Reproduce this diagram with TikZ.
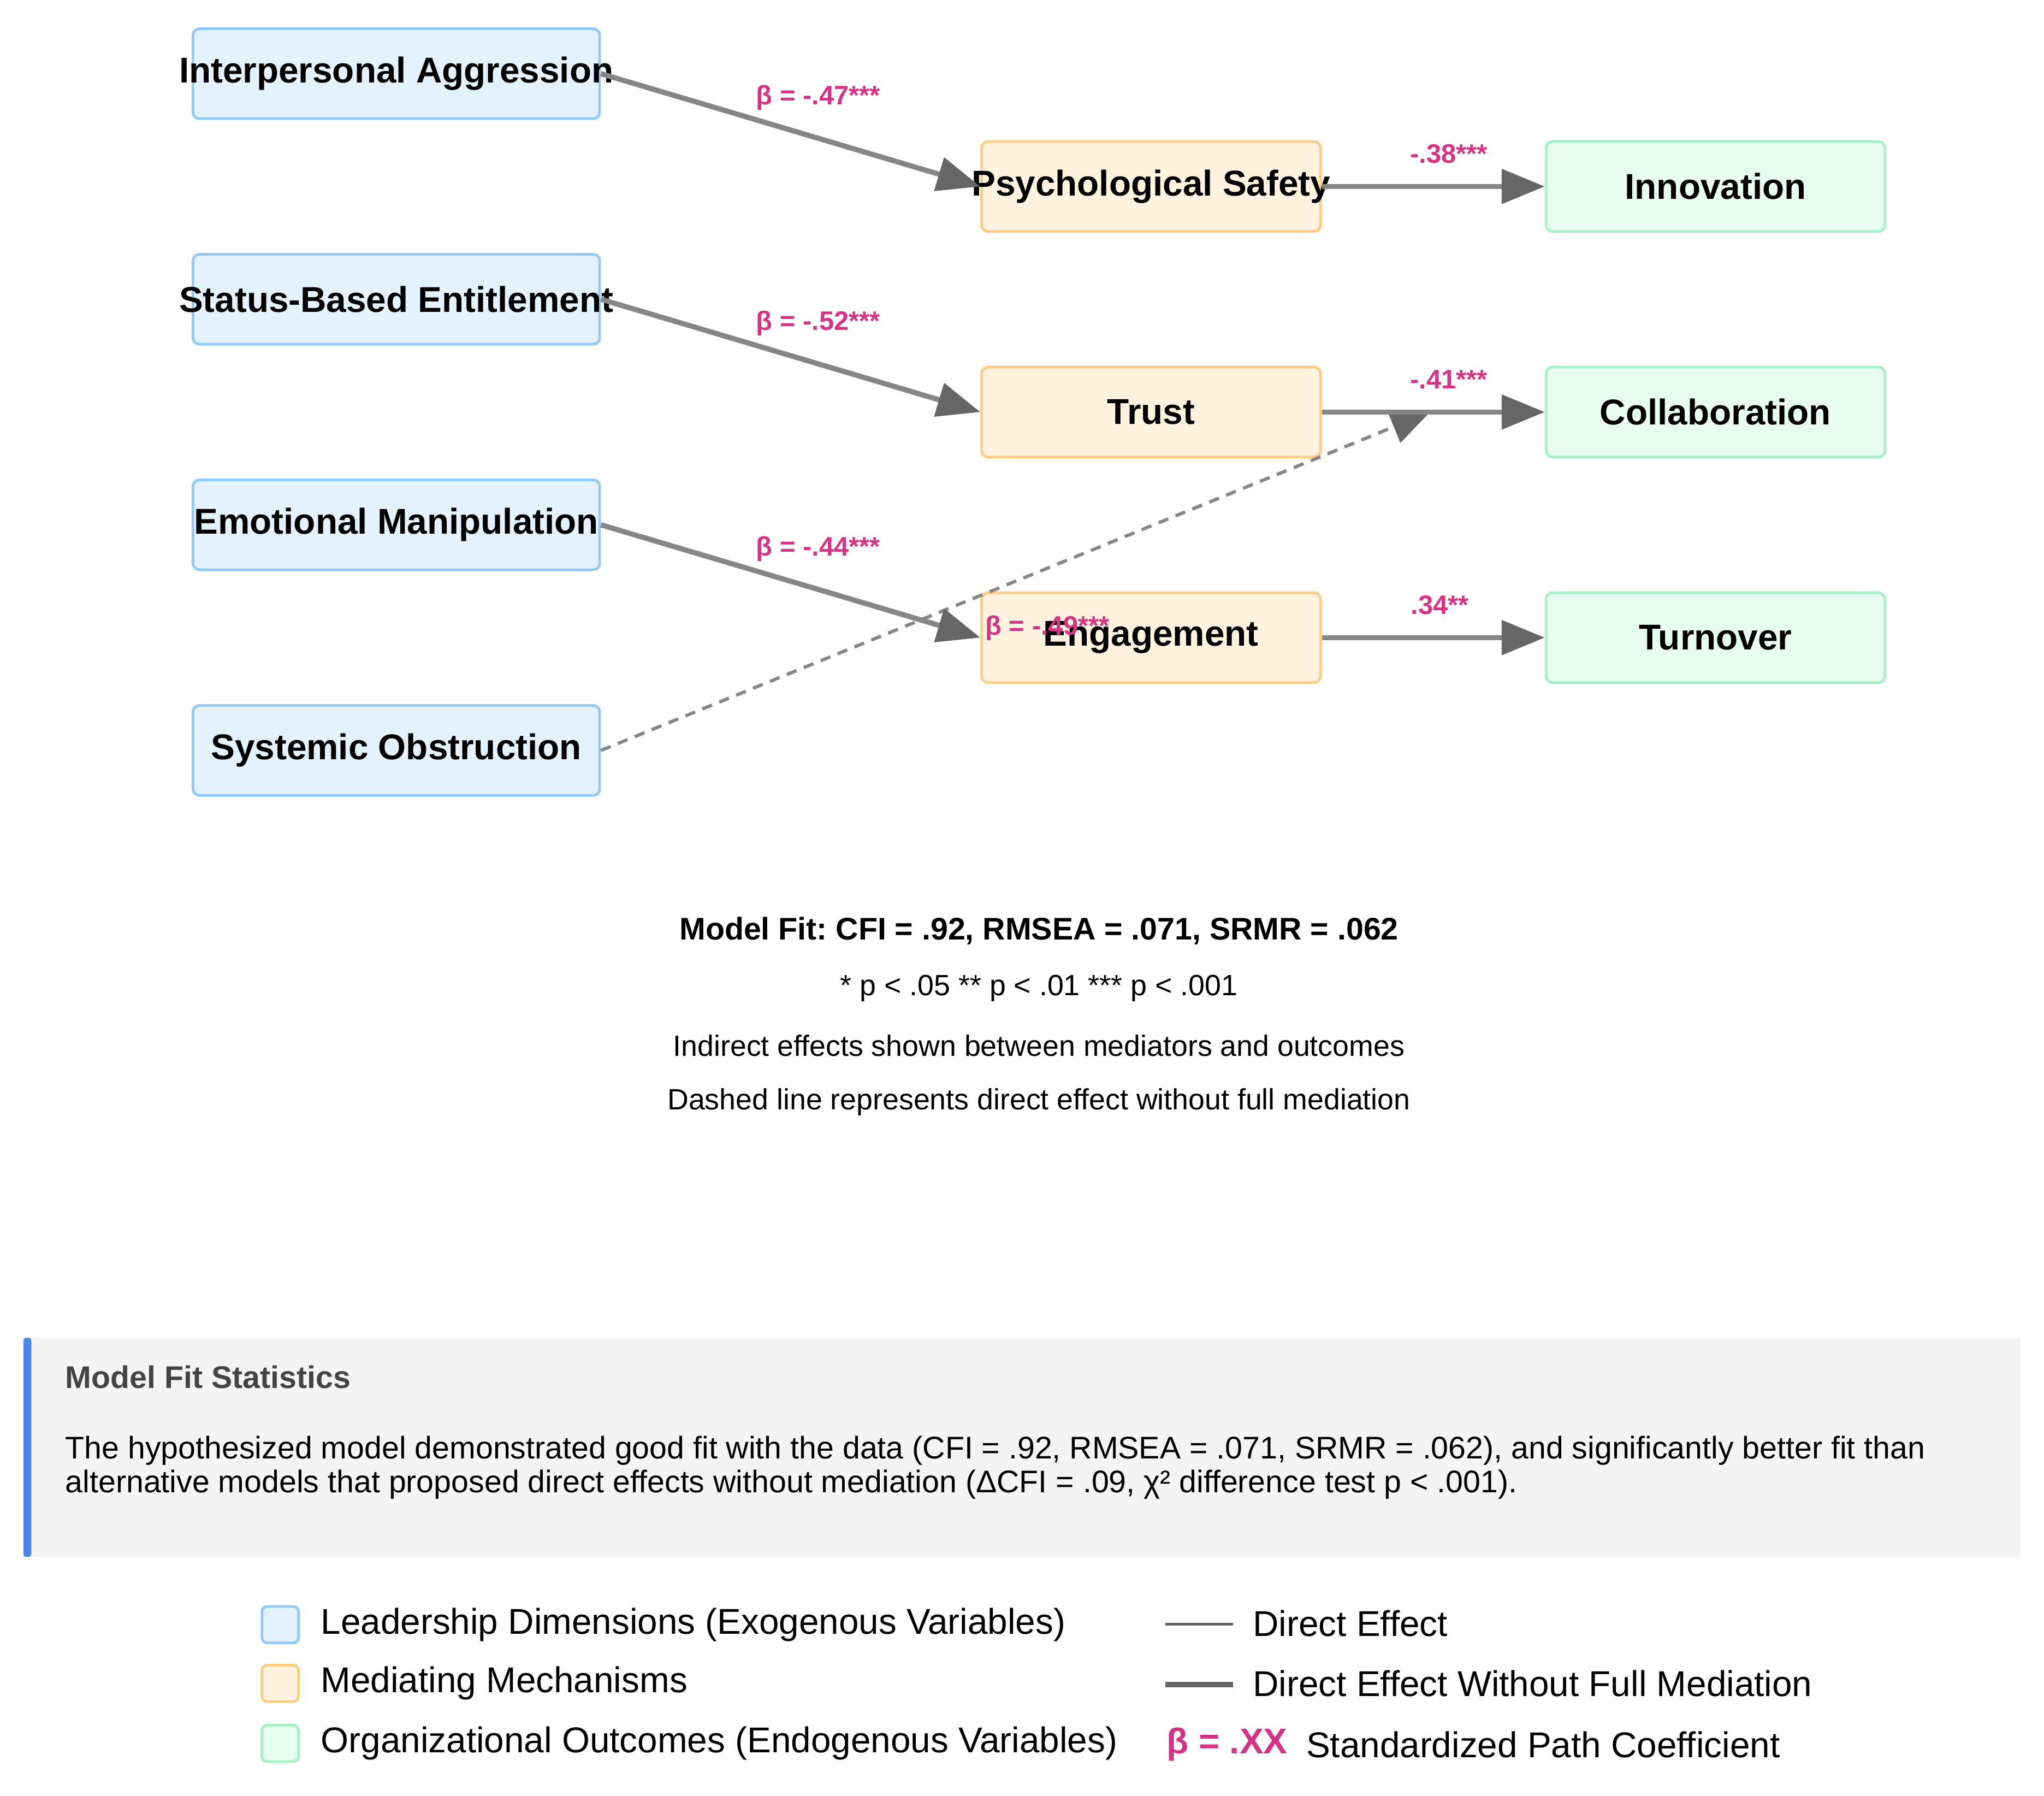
\documentclass[tikz,border=0pt]{standalone}
\usepackage{fontspec}
\setmainfont{Liberation Sans}
\usepackage{tikz}
\usetikzlibrary{positioning, arrows.meta}
\frenchspacing
\definecolor{leadfill}{HTML}{E3F2FD}
\definecolor{leaddraw}{HTML}{90CAF9}
\definecolor{medfill}{HTML}{FFF3E0}
\definecolor{meddraw}{HTML}{FFCC80}
\definecolor{outfill}{HTML}{E8FDF1}
\definecolor{outdraw}{HTML}{A3F2C6}
\definecolor{pathgray}{HTML}{868686}
\definecolor{headgray}{HTML}{666666}
\definecolor{coefpink}{HTML}{D63384}
\definecolor{panelgray}{HTML}{F4F4F4}
\definecolor{panelblue}{HTML}{4A86E8}
\definecolor{headtext}{HTML}{444444}
\newcommand{\vname}[1]{\makebox[0pt]{#1}}
\tikzstyle{leader} = [rectangle, rounded corners=5pt, minimum width=312pt, minimum height=69pt, text centered, draw=leaddraw, fill=leadfill, line width=2pt, font=\fontsize{27.5}{32}\selectfont\bfseries]
\tikzstyle{mediator} = [rectangle, rounded corners=5pt, minimum width=260pt, minimum height=69pt, text centered, draw=meddraw, fill=medfill, line width=2pt, font=\fontsize{27.5}{32}\selectfont\bfseries]
\tikzstyle{outcome} = [rectangle, rounded corners=5pt, minimum width=260pt, minimum height=69pt, text centered, draw=outdraw, fill=outfill, line width=2pt, font=\fontsize{27.5}{32}\selectfont\bfseries]
\tikzstyle{arrow} = [-{Triangle[length=33pt,width=26pt,color=headgray]}, draw=pathgray, line width=4pt]
\tikzstyle{dasharrow} = [-{Triangle[length=30pt,width=26pt,color=headgray]}, draw=pathgray, line width=2.5pt, dash pattern=on 8pt off 6pt]
\tikzstyle{coef} = [text=coefpink, inner sep=0pt, font=\fontsize{20.5}{24}\selectfont\bfseries]
\tikzstyle{fitline} = [inner sep=0pt, font=\fontsize{24}{28}\selectfont\bfseries]
\tikzstyle{note} = [inner sep=0pt, font=\fontsize{22.5}{26}\selectfont]
\tikzstyle{legsq} = [rectangle, rounded corners=4pt, minimum width=28pt, minimum height=28pt, line width=2pt, inner sep=0pt]
\tikzstyle{legtext} = [inner sep=0pt, anchor=west, font=\fontsize{27.5}{32}\selectfont]

\begin{document}
\begin{tikzpicture}[x=1pt, y=1pt, node distance=173pt]
	\useasboundingbox (0,0) rectangle (1568,-1377);

	% leadership dimensions
	\node (ia) [leader] at (304,-56.5) {\vname{Interpersonal Aggression}};
	\node (sbe) [leader, below of=ia] {\vname{Status-Based Entitlement}};
	\node (em) [leader, below of=sbe] {\vname{Emotional Manipulation}};
	\node (so) [leader, below of=em] {\vname{Systemic Obstruction}};

	% mediating mechanisms
	\node (ps) [mediator] at (883,-143) {\vname{Psychological Safety}};
	\node (tr) [mediator, below of=ps] {\vname{Trust}};
	\node (en) [mediator, below of=tr] {\vname{Engagement}};

	% organizational outcomes
	\node (inn) [outcome, right of=ps, node distance=433pt] {\vname{Innovation}};
	\node (col) [outcome, right of=tr, node distance=433pt] {\vname{Collaboration}};
	\node (tov) [outcome, right of=en, node distance=433pt] {\vname{Turnover}};

	\coordinate (dashend) at (1097,-316);
	\draw [dasharrow](so.east) -- (dashend);

	\draw [arrow](ia.east) -- (ps.west) node[coef, pos=.573, yshift=31pt] {β = -.47***};
	\draw [arrow](sbe.east) -- (tr.west) node[coef, pos=.573, yshift=31pt] {β = -.52***};
	\draw [arrow](em.east) -- (en.west) node[coef, pos=.573, yshift=31pt] {β = -.44***};
	\draw [arrow](ps.east) -- (inn.west) node[coef, pos=.57, yshift=25pt] {-.38***};
	\draw [arrow](tr.east) -- (col.west) node[coef, pos=.57, yshift=25pt] {-.41***};
	\draw [arrow](en.east) -- (tov.west) node[coef, pos=.53, yshift=25pt] {.34**};
	\path (so.east) -- (dashend) node[coef, pos=.5385, yshift=-46pt] {β = -.49***};

	% notes under the model
	\node (fit) [fitline] at (797,-714) {Model Fit: CFI = .92, RMSEA = .071, SRMR = .062};
	\node (sig) [note, below of=fit, node distance=44pt] {* p < .05 ** p < .01 *** p < .001};
	\node (ind) [note, below of=sig, node distance=44pt] {Indirect effects shown between mediators and outcomes};
	\node (dsh) [note, below of=ind, node distance=43pt] {Dashed line represents direct effect without full mediation};

	% statistics panel
	\fill [panelgray] (18,-1026) rectangle (1550,-1194);
	\fill [panelblue, rounded corners=2pt] (18,-1026) rectangle (24,-1194);
	\node (stathead) [inner sep=0pt, anchor=west, text=headtext, font=\fontsize{24}{28}\selectfont\bfseries] at (50,-1056) {Model Fit Statistics};
	\node (stattext) [inner sep=0pt, anchor=north west, align=left, font=\fontsize{24}{26}\selectfont] at (50,-1101) {The hypothesized model demonstrated good fit with the data (CFI = .92, RMSEA = .071, SRMR = .062), and significantly better fit than\\alternative models that proposed direct effects without mediation (ΔCFI = .09, χ² difference test p < .001).};

	% legend
	\node (lglead) [legsq, draw=leaddraw, fill=leadfill] at (215,-1246) {};
	\node (lgmed) [legsq, draw=meddraw, fill=medfill] at (215,-1291) {};
	\node (lgout) [legsq, draw=outdraw, fill=outfill] at (215,-1337) {};
	\node (tlead) [legtext, right=16pt of lglead] {Leadership Dimensions (Exogenous Variables)};
	\node (tmed) [legtext, right=16pt of lgmed] {Mediating Mechanisms};
	\node (tout) [legtext, right=16pt of lgout] {Organizational Outcomes (Endogenous Variables)};
	\draw [headgray, line width=2pt] (894,-1245.5) -- (946,-1245.5);
	\draw [headgray, line width=4pt] (894,-1292) -- (946,-1292);
	\node (tdir) [legtext] at (961,-1245) {Direct Effect};
	\node (tdfm) [legtext] at (961,-1291) {Direct Effect Without Full Mediation};
	\node (tbeta) [legtext, text=coefpink, font=\fontsize{27.5}{32}\selectfont\bfseries] at (895,-1338) {β = .XX};
	\node (tstd) [legtext, right=14pt of tbeta] {Standardized Path Coefficient};
\end{tikzpicture}
\end{document}
